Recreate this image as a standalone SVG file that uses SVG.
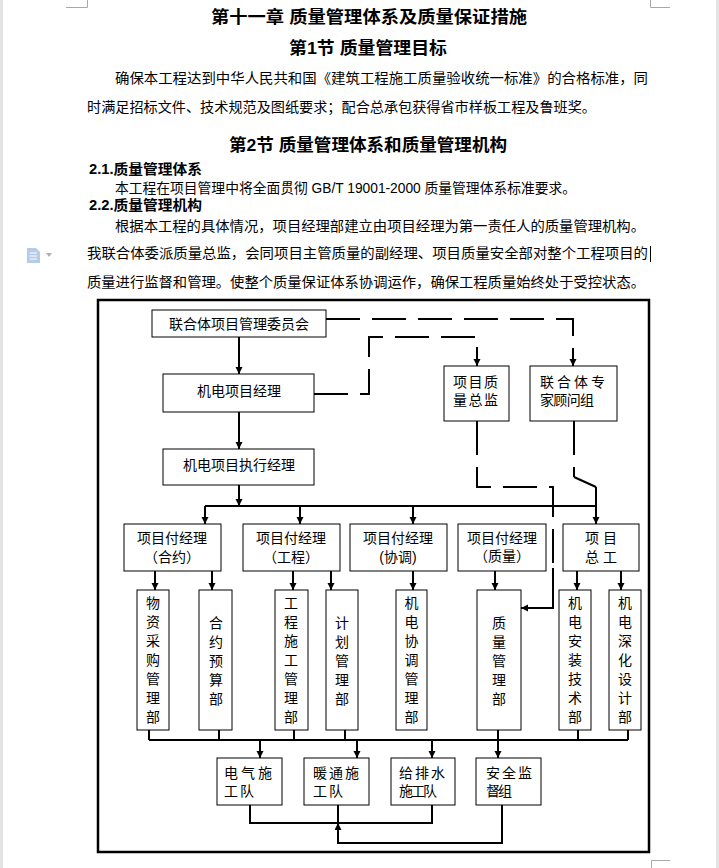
<svg xmlns="http://www.w3.org/2000/svg" width="719" height="868" viewBox="0 0 719 868">
<defs>
<style>
.box{fill:#fff;stroke:#000;stroke-width:1}
.ln{fill:none;stroke:#000;stroke-width:2}
.dash{fill:none;stroke:#000;stroke-width:2;stroke-dasharray:34 12}
.t{font-family:"Liberation Sans","Noto Sans CJK SC",sans-serif;font-size:14px;fill:#000}
.h{font-family:"Liberation Sans","Noto Sans CJK SC",sans-serif;font-weight:bold;fill:#000}
.m{text-anchor:middle}
.deco{fill:none;stroke:#a8a8a8;stroke-width:1}
</style>
<marker id="ah" markerUnits="userSpaceOnUse" markerWidth="8" markerHeight="8" refX="7" refY="3.5" orient="auto"><path d="M0,0 L7,3.5 L0,7 z" fill="#000"/></marker>
</defs>
<rect x="0" y="0" width="719" height="868" fill="#fff"/>
<rect x="0" y="0" width="3" height="868" fill="#e3e3e3"/>
<rect x="716" y="0" width="3" height="868" fill="#e3e3e3"/>
<path class="deco" d="M66,7.5 H87.5 V0 M650.5,0 V7.5 H670 M651.5,868 V860.5 H670"/>
<g id="doc-icon">
<path d="M27,248 H36 L40,252 V263 H27 Z" fill="#b4cbe9"/>
<path d="M29.5,253 H37 M29.5,256 H37 M29.5,259 H37" stroke="#fff" stroke-width="1"/>
<path d="M46,253 L52,253 L49,257 Z" fill="#b0b0b0"/>
</g>
<g id="text-body">
<text class="h m" x="369" y="23" font-size="17" textLength="316" lengthAdjust="spacingAndGlyphs">第十一章 质量管理体系及质量保证措施</text>
<text class="h m" x="368" y="54" font-size="17" textLength="158" lengthAdjust="spacingAndGlyphs">第1节 质量管理目标</text>
<text class="t" x="115" y="83" font-size="14.5" textLength="533" lengthAdjust="spacingAndGlyphs">确保本工程达到中华人民共和国《建筑工程施工质量验收统一标准》的合格标准，同</text>
<text class="t" x="87" y="112" font-size="14.5" textLength="509" lengthAdjust="spacingAndGlyphs">时满足招标文件、技术规范及图纸要求；配合总承包获得省市样板工程及鲁班奖。</text>
<text class="h m" x="368" y="151" font-size="17" textLength="278" lengthAdjust="spacingAndGlyphs">第2节 质量管理体系和质量管理机构</text>
<text class="h" x="89" y="174" font-size="14" textLength="113" lengthAdjust="spacingAndGlyphs">2.1.质量管理体系</text>
<text class="t" x="115" y="193" textLength="461" lengthAdjust="spacingAndGlyphs">本工程在项目管理中将全面贯彻 GB/T 19001-2000 质量管理体系标准要求。</text>
<text class="h" x="89" y="210" font-size="14" textLength="113" lengthAdjust="spacingAndGlyphs">2.2.质量管理机构</text>
<text class="t" x="115" y="231" textLength="530" lengthAdjust="spacingAndGlyphs">根据本工程的具体情况，项目经理部建立由项目经理为第一责任人的质量管理机构。</text>
<text class="t" x="87" y="258" textLength="561" lengthAdjust="spacingAndGlyphs">我联合体委派质量总监，会同项目主管质量的副经理、项目质量安全部对整个工程项目的</text>
<line x1="650.5" y1="246" x2="650.5" y2="262" stroke="#000" stroke-width="1"/>
<text class="t" x="87" y="287" textLength="558" lengthAdjust="spacingAndGlyphs">质量进行监督和管理。使整个质量保证体系协调运作，确保工程质量始终处于受控状态。</text>
</g>
<rect id="frame" x="98" y="300" width="551" height="552" fill="none" stroke="#000" stroke-width="2.5"/>
<g id="connectors">
<path class="ln" d="M239,337 V374" marker-end="url(#ah)"/>
<path class="ln" d="M239,412 V449" marker-end="url(#ah)"/>
<path class="ln" d="M239,485 V506" marker-end="url(#ah)"/>
<path class="ln" d="M205,506 H596"/>
<path class="ln" d="M205,506 V524" marker-end="url(#ah)"/>
<path class="ln" d="M300,506 V524" marker-end="url(#ah)"/>
<path class="ln" d="M413,506 V524" marker-end="url(#ah)"/>
<path class="ln" d="M596,487 V524" marker-end="url(#ah)"/>
<path class="ln" d="M155,571 V590" marker-end="url(#ah)"/>
<path class="ln" d="M212,571 V590" marker-end="url(#ah)"/>
<path class="ln" d="M293,571 V590" marker-end="url(#ah)"/>
<path class="ln" d="M331,571 V590" marker-end="url(#ah)"/>
<path class="ln" d="M413,571 V590" marker-end="url(#ah)"/>
<path class="ln" d="M495,571 V590" marker-end="url(#ah)"/>
<path class="ln" d="M577,571 V590" marker-end="url(#ah)"/>
<path class="ln" d="M621,571 V590" marker-end="url(#ah)"/>
<path class="dash" d="M326,319 H573 V358"/>
<path class="ln" d="M573,356 V366" marker-end="url(#ah)"/>
<path class="dash" d="M314,394 H369 V337 H477 V358"/>
<path class="ln" d="M477,356 V366" marker-end="url(#ah)"/>
<path class="dash" d="M477,421 V487 H553 V572"/>
<path class="ln" d="M553,568 V608 H521" marker-end="url(#ah)"/>
<path class="dash" d="M574,421 V477"/>
<path class="ln" d="M574,477 L596,487"/>
<path class="ln" d="M149,730 V740 M219,730 V740 M294,730 V740 M345,730 V740 M578,730 V740 M628,730 V740"/>
<path class="ln" d="M149,740 H628"/>
<path class="ln" d="M260,740 V758" marker-end="url(#ah)"/>
<path class="ln" d="M357,740 V758" marker-end="url(#ah)"/>
<path class="ln" d="M432,740 V758" marker-end="url(#ah)"/>
<path class="ln" d="M498,730 V758" marker-end="url(#ah)"/>
<path class="ln" d="M250,805 V823 H432 V805 M338,805 V823"/>
<path class="ln" d="M502,805 V843 H338 V823" marker-end="url(#ah)"/>
</g>
<g id="n-committee"><rect class="box" x="152" y="310" width="174" height="27"/><text class="t m" x="239" y="329">联合体项目管理委员会</text></g>
<g id="n-pm"><rect class="box" x="163" y="374" width="151" height="38"/><text class="t m" x="239" y="396">机电项目经理</text></g>
<g id="n-epm"><rect class="box" x="163" y="449" width="151" height="36"/><text class="t m" x="239" y="470">机电项目执行经理</text></g>
<g id="n-qd"><rect class="box" x="444" y="366" width="65" height="55"/><text class="t" x="453" y="387" textLength="45" lengthAdjust="spacing">项目质</text><text class="t" x="453" y="405" textLength="45" lengthAdjust="spacing">量总监</text></g>
<g id="n-expert"><rect class="box" x="530" y="366" width="87" height="55"/><text class="t" x="540" y="387" textLength="65" lengthAdjust="spacing">联合体专</text><text class="t" x="540" y="405" textLength="54" lengthAdjust="spacing">家顾问组</text></g>
<g id="n-dep-contract"><rect class="box" x="124" y="524" width="97" height="47"/><text class="t m" x="172" y="543">项目付经理</text><text class="t m" x="172" y="562">（合约）</text></g>
<g id="n-dep-eng"><rect class="box" x="243" y="524" width="97" height="47"/><text class="t m" x="291" y="543">项目付经理</text><text class="t m" x="291" y="562">（工程）</text></g>
<g id="n-dep-coord"><rect class="box" x="350" y="524" width="97" height="47"/><text class="t m" x="398" y="543">项目付经理</text><text class="t m" x="398" y="562">(协调)</text></g>
<g id="n-dep-quality"><rect class="box" x="458" y="524" width="88" height="47"/><text class="t m" x="502" y="543" font-size="12.5">项目付经理</text><text class="t m" x="502" y="561" font-size="12.5">（质量）</text></g>
<g id="n-chief"><rect class="box" x="563" y="524" width="76" height="47"/><text class="t m" x="601" y="543" xml:space="preserve">项 目</text><text class="t m" x="601" y="562" xml:space="preserve">总 工</text></g>
<g id="n-purchase"><rect class="box" x="137" y="590" width="32" height="140"/><text class="t m" x="153" y="608"><tspan x="153">物</tspan><tspan x="153" dy="19">资</tspan><tspan x="153" dy="19">采</tspan><tspan x="153" dy="19">购</tspan><tspan x="153" dy="19">管</tspan><tspan x="153" dy="19">理</tspan><tspan x="153" dy="19">部</tspan></text></g>
<g id="n-budget"><rect class="box" x="199" y="590" width="33" height="140"/><text class="t m" x="216" y="628"><tspan x="216">合</tspan><tspan x="216" dy="19">约</tspan><tspan x="216" dy="19">预</tspan><tspan x="216" dy="19">算</tspan><tspan x="216" dy="19">部</tspan></text></g>
<g id="n-construction"><rect class="box" x="275" y="590" width="33" height="140"/><text class="t m" x="291" y="608"><tspan x="291">工</tspan><tspan x="291" dy="19">程</tspan><tspan x="291" dy="19">施</tspan><tspan x="291" dy="19">工</tspan><tspan x="291" dy="19">管</tspan><tspan x="291" dy="19">理</tspan><tspan x="291" dy="19">部</tspan></text></g>
<g id="n-plan"><rect class="box" x="326" y="590" width="32" height="140"/><text class="t m" x="342" y="628"><tspan x="342">计</tspan><tspan x="342" dy="19">划</tspan><tspan x="342" dy="19">管</tspan><tspan x="342" dy="19">理</tspan><tspan x="342" dy="19">部</tspan></text></g>
<g id="n-coord"><rect class="box" x="396" y="590" width="31" height="140"/><text class="t m" x="411.5" y="608"><tspan x="411.5">机</tspan><tspan x="411.5" dy="19">电</tspan><tspan x="411.5" dy="19">协</tspan><tspan x="411.5" dy="19">调</tspan><tspan x="411.5" dy="19">管</tspan><tspan x="411.5" dy="19">理</tspan><tspan x="411.5" dy="19">部</tspan></text></g>
<g id="n-quality"><rect class="box" x="477" y="590" width="44" height="140"/><text class="t m" x="499" y="628"><tspan x="499">质</tspan><tspan x="499" dy="19">量</tspan><tspan x="499" dy="19">管</tspan><tspan x="499" dy="19">理</tspan><tspan x="499" dy="19">部</tspan></text></g>
<g id="n-install"><rect class="box" x="559" y="590" width="32" height="140"/><text class="t m" x="575" y="608"><tspan x="575">机</tspan><tspan x="575" dy="19">电</tspan><tspan x="575" dy="19">安</tspan><tspan x="575" dy="19">装</tspan><tspan x="575" dy="19">技</tspan><tspan x="575" dy="19">术</tspan><tspan x="575" dy="19">部</tspan></text></g>
<g id="n-design"><rect class="box" x="609" y="590" width="32" height="140"/><text class="t m" x="625" y="608"><tspan x="625">机</tspan><tspan x="625" dy="19">电</tspan><tspan x="625" dy="19">深</tspan><tspan x="625" dy="19">化</tspan><tspan x="625" dy="19">设</tspan><tspan x="625" dy="19">计</tspan><tspan x="625" dy="19">部</tspan></text></g>
<g id="n-elec"><rect class="box" x="217" y="758" width="65" height="47"/><text class="t" x="224" y="778" textLength="48" lengthAdjust="spacing">电气施</text><text class="t" x="224" y="796" textLength="30" lengthAdjust="spacing">工队</text></g>
<g id="n-hvac"><rect class="box" x="304" y="758" width="65" height="47"/><text class="t" x="313" y="778" textLength="46" lengthAdjust="spacing">暖通施</text><text class="t" x="313" y="796" textLength="30" lengthAdjust="spacing">工队</text></g>
<g id="n-water"><rect class="box" x="391" y="758" width="64" height="47"/><text class="t" x="399" y="778" textLength="46" lengthAdjust="spacing">给排水</text><text class="t" x="399" y="796" textLength="38" lengthAdjust="spacing">施工队</text></g>
<g id="n-safety"><rect class="box" x="476" y="758" width="65" height="47"/><text class="t" x="486" y="778" textLength="46" lengthAdjust="spacing">安全监</text><text class="t" x="486" y="796" textLength="26" lengthAdjust="spacing">督组</text></g>
</svg>
